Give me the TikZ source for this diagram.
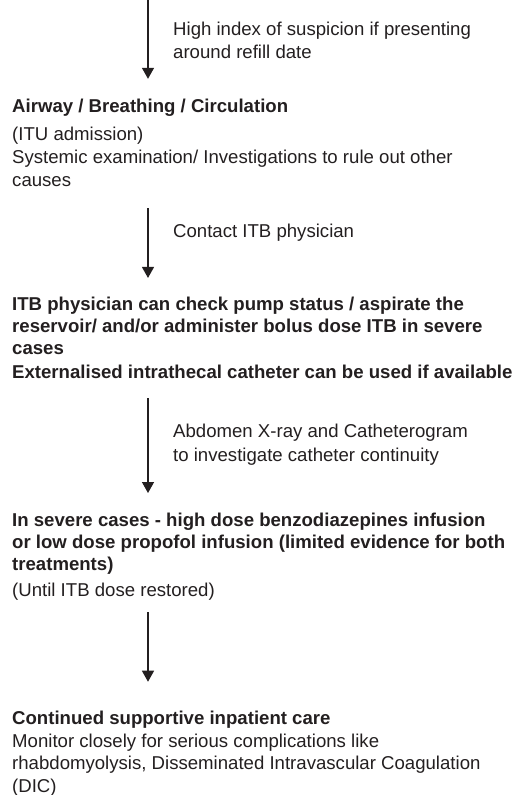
\documentclass[tikz,border=0pt]{standalone}
\usepackage{fontspec}
\setmainfont{Liberation Sans}
\usetikzlibrary{arrows.meta}
\definecolor{ink}{HTML}{231F20}
\begin{document}
\begin{tikzpicture}[x=1pt,y=-1pt,
  txt/.style={anchor=base west,inner sep=0pt,align=left,text=ink,
    font=\fontsize{18.6}{23}\selectfont},
  bold/.style={txt,font=\fontsize{18.6}{22}\selectfont\bfseries},
  arr/.style={draw=ink,line width=1.3pt,-{Triangle[width=12pt,length=11pt]}}]
\useasboundingbox (0,0) rectangle (516,795);
\coordinate (top) at (148,0);
\node[txt] (lab1) at (173,58.5) {High index of suspicion if presenting\\around refill date};
\node[bold] (abc) at (12,112.5) {Airway / Breathing / Circulation};
\node[txt] (itu) at (12,186.7) {(ITU admission)\\Systemic examination/ Investigations to rule out other\\causes};
\node[txt] (lab2) at (173,237.5) {Contact ITB physician};
\node[bold] (itb) at (12,354) {ITB physician can check pump status / aspirate the\\reservoir/ and/or administer bolus dose ITB in severe\\cases};
\node[bold] (ext) at (12,378.3) {Externalised intrathecal catheter can be used if available};
\node[txt,font=\fontsize{18.6}{24.3}\selectfont] (lab3) at (173,461.6) {Abdomen X-ray and Catheterogram\\to investigate catheter continuity};
\node[bold] (sev) at (12,570.7) {In severe cases - high dose benzodiazepines infusion\\or low dose propofol infusion (limited evidence for both\\treatments)};
\node[txt] (until) at (12,596) {(Until ITB dose restored)};
\node[bold] (cont) at (12,724.4) {Continued supportive inpatient care};
\node[txt,font=\fontsize{18.6}{22.4}\selectfont] (mon) at (12,792) {Monitor closely for serious complications like\\rhabdomyolysis, Disseminated Intravascular Coagulation\\(DIC)};
\draw[arr,shorten >=20pt] (top) -- (abc.north -| top);
\draw[arr,shorten <=21pt,shorten >=18.4pt] (itu.south -| top) -- (itb.north -| top);
\draw[arr,shorten <=19.7pt,shorten >=20pt] (ext.south -| top) -- (sev.north -| top);
\draw[arr,shorten <=12pt,shorten >=29pt] (until.south -| top) -- (cont.north -| top);
\end{tikzpicture}
\end{document}
